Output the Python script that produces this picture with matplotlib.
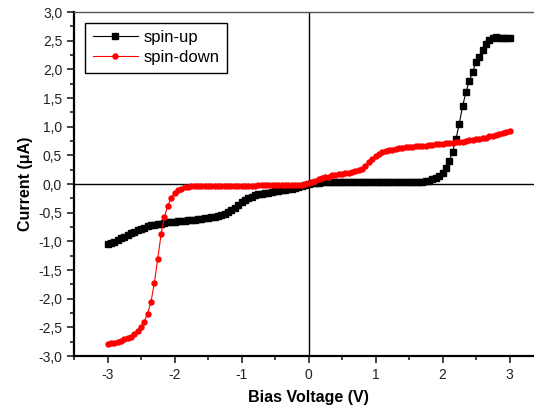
import numpy as np
import matplotlib.pyplot as plt
from matplotlib.ticker import MultipleLocator, FuncFormatter

plt.rcParams['font.family'] = ['Liberation Sans', 'DejaVu Sans']

# bias voltage grid (V)
voltage = [round(-3 + 0.05 * i, 2) for i in range(121)]

# spin-up current (uA)
spin_up = [
    -1.05, -1.03, -1.01, -0.98, -0.95, -0.92, -0.89, -0.86, -0.83, -0.81,
    -0.78, -0.76, -0.74, -0.72, -0.71, -0.70, -0.69, -0.68, -0.67, -0.67,
    -0.66, -0.65, -0.65, -0.64, -0.63, -0.63, -0.62, -0.61, -0.61, -0.60,
    -0.59, -0.58, -0.57, -0.56, -0.54, -0.52, -0.49, -0.46, -0.42, -0.37,
    -0.32, -0.28, -0.25, -0.22, -0.20, -0.18, -0.17, -0.16, -0.15, -0.14,
    -0.13, -0.12, -0.11, -0.10, -0.09, -0.08, -0.07, -0.05, -0.04, -0.02,
    0.00, 0.01, 0.02, 0.02, 0.03, 0.03, 0.03, 0.03, 0.03, 0.03,
    0.03, 0.03, 0.03, 0.03, 0.03, 0.03, 0.03, 0.03, 0.03, 0.03,
    0.03, 0.03, 0.03, 0.03, 0.03, 0.03, 0.03, 0.03, 0.03, 0.03,
    0.03, 0.03, 0.04, 0.04, 0.04, 0.05, 0.06, 0.08, 0.10, 0.14,
    0.20, 0.28, 0.40, 0.56, 0.78, 1.05, 1.36, 1.60, 1.80, 1.96,
    2.12, 2.22, 2.33, 2.44, 2.52, 2.55, 2.56, 2.55, 2.55, 2.54,
    2.54,
]

# spin-down current (uA)
spin_down = [
    -2.79, -2.78, -2.77, -2.75, -2.73, -2.71, -2.69, -2.66, -2.62, -2.57,
    -2.50, -2.40, -2.26, -2.05, -1.72, -1.30, -0.88, -0.57, -0.38, -0.24,
    -0.16, -0.11, -0.08, -0.06, -0.05, -0.04, -0.04, -0.03, -0.03, -0.03,
    -0.03, -0.03, -0.03, -0.03, -0.03, -0.03, -0.03, -0.03, -0.03, -0.03,
    -0.03, -0.03, -0.03, -0.03, -0.03, -0.02, -0.02, -0.02, -0.02, -0.02,
    -0.02, -0.02, -0.02, -0.02, -0.02, -0.02, -0.02, -0.02, -0.01, 0.00,
    0.01, 0.03, 0.06, 0.08, 0.10, 0.12, 0.13, 0.15, 0.16, 0.17,
    0.18, 0.19, 0.20, 0.21, 0.22, 0.24, 0.27, 0.32, 0.38, 0.43,
    0.48, 0.52, 0.55, 0.57, 0.59, 0.60, 0.61, 0.62, 0.63, 0.64,
    0.65, 0.65, 0.66, 0.66, 0.67, 0.67, 0.68, 0.68, 0.69, 0.69,
    0.70, 0.71, 0.71, 0.72, 0.73, 0.73, 0.74, 0.75, 0.76, 0.77,
    0.78, 0.79, 0.80, 0.81, 0.83, 0.84, 0.86, 0.88, 0.89, 0.91,
    0.93,
]

fig = plt.figure(figsize=(5.34, 4.17), dpi=100)
ax = fig.add_axes([74 / 534, 61 / 417, 469 / 534, 344 / 417])

ax.axhline(0, color='black', lw=1.0, zorder=1)
ax.axvline(0, color='black', lw=1.0, zorder=1)

ax.plot(voltage, spin_up, color='black', lw=0.8, marker='s', ms=4.4,
        mec='black', mfc='black', label='spin-up', zorder=3)
ax.plot(voltage, spin_down, color='red', lw=0.8, marker='o', ms=3.6,
        mec='red', mfc='red', label='spin-down', zorder=4)

ax.set_xlim(-3.5, 3.5)
ax.set_ylim(-3.0, 3.0)

ax.xaxis.set_major_locator(MultipleLocator(1))
ax.xaxis.set_minor_locator(MultipleLocator(0.5))
ax.yaxis.set_major_locator(MultipleLocator(0.5))
ax.yaxis.set_minor_locator(MultipleLocator(0.25))

ax.xaxis.set_major_formatter(FuncFormatter(lambda v, p: '%d' % round(v)))
ax.yaxis.set_major_formatter(FuncFormatter(lambda v, p: ('%.1f' % v).replace('.', ',')))

ax.tick_params(which='both', direction='out', top=False, right=False,
               labelsize=10, width=1.2, colors='#222222')
ax.tick_params(which='major', length=5)
ax.tick_params(which='minor', length=3)

for side in ['left', 'bottom']:
    ax.spines[side].set_linewidth(1.6)
ax.spines['top'].set_linewidth(1.0)
ax.spines['top'].set_color('#555555')
ax.spines['right'].set_linewidth(1.0)

ax.set_xlabel('Bias Voltage (V)', fontsize=11.5, fontweight='bold', labelpad=6)
ax.set_ylabel('Current (\u03bcA)', fontsize=11.5, fontweight='bold', labelpad=4)

leg = ax.legend(loc='upper left', numpoints=1, fontsize=12, fancybox=False,
                edgecolor='black', framealpha=1, handlelength=2.7,
                borderpad=0.45, labelspacing=0.3, handletextpad=0.35,
                borderaxespad=0, bbox_to_anchor=(0.0235, 0.969))
leg.get_frame().set_linewidth(1.0)

fig.savefig('out.png', dpi=100)
